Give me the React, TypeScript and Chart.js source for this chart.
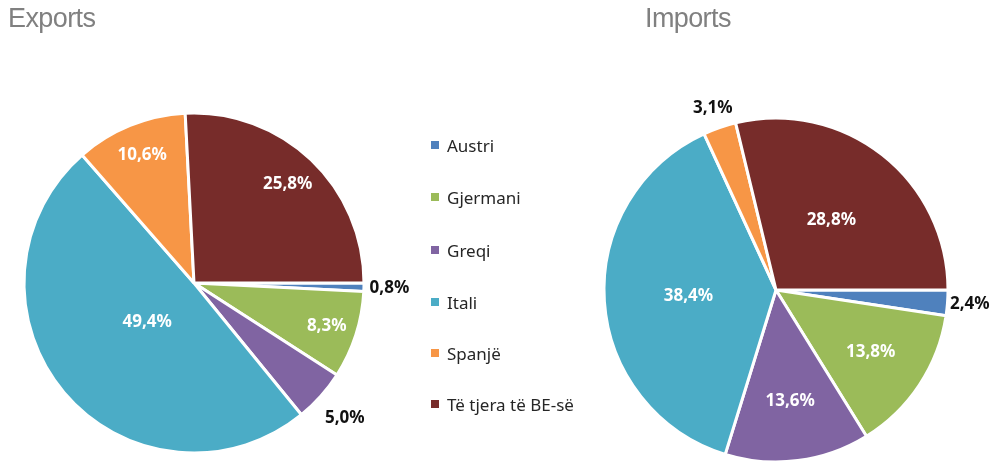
import React, { useEffect, useRef } from "react";
import { Chart, registerables } from "chart.js";

Chart.register(...registerables);

const categories = ["Austri", "Gjermani", "Greqi", "Itali", "Spanjë", "Të tjera të BE-së"];
const exportValues = [0.8, 8.3, 5.0, 49.4, 10.6, 25.8];
const importValues = [2.4, 13.8, 13.6, 38.4, 3.1, 28.8];
const colors = ["#4F81BD", "#9BBB59", "#8064A2", "#4BACC6", "#F79646", "#772C2A"];

// label placement as fraction of the outer radius (>1 means outside the pie)
const exportLabelRadius = [1.15, 0.82, 1.19, 0.36, 0.81, 0.8];
const importLabelRadius = [1.13, 0.66, 0.65, 0.51, 1.12, 0.52];

const W = 994;
const H = 463;

const labelPlugin = {
  id: "sliceLabels",
  afterDatasetsDraw(chart: any, _args: any, opts: any) {
    const { ctx } = chart;
    const meta = chart.getDatasetMeta(0);
    const data = chart.data.datasets[0].data as number[];
    const fracs: number[] = opts.fractions || [];
    ctx.save();
    ctx.font = "bold 17px 'Noto Sans', 'DejaVu Sans', sans-serif";
    ctx.textAlign = "center";
    ctx.textBaseline = "middle";
    meta.data.forEach((arc: any, i: number) => {
      const p = arc.getProps(["x", "y", "startAngle", "endAngle", "outerRadius"], true);
      const mid = (p.startAngle + p.endAngle) / 2;
      const f = fracs[i] ?? 0.65;
      const r = p.outerRadius * f;
      const x = p.x + Math.cos(mid) * r;
      const y = p.y + Math.sin(mid) * r;
      ctx.fillStyle = f > 1 ? "#111111" : "#ffffff";
      ctx.fillText(data[i].toFixed(1).replace(".", ",") + "%", x, y);
    });
    ctx.restore();
  },
};

function PieCanvas({
  values,
  fractions,
  radius,
  padding,
}: {
  values: number[];
  fractions: number[];
  radius: number;
  padding: { left: number; right: number; top: number; bottom: number };
}) {
  const ref = useRef<HTMLCanvasElement | null>(null);
  useEffect(() => {
    if (!ref.current) return;
    const chart = new Chart(ref.current, {
      type: "pie",
      data: {
        labels: categories,
        datasets: [
          {
            data: values,
            backgroundColor: colors,
            borderColor: "#ffffff",
            borderWidth: 3,
          },
        ],
      },
      options: {
        responsive: false,
        animation: false,
        rotation: 90,
        radius: radius,
        layout: { padding },
        plugins: {
          legend: { display: false },
          tooltip: { enabled: false },
          sliceLabels: { fractions },
        } as any,
      },
      plugins: [labelPlugin],
    });
    return () => chart.destroy();
  }, []);
  return (
    <canvas
      ref={ref}
      width={W}
      height={H}
      style={{ position: "absolute", left: 0, top: 0, width: W, height: H }}
    />
  );
}

const legendY = [145, 197, 250, 302, 353, 404];

export default function App() {
  const titleStyle: React.CSSProperties = {
    position: "absolute",
    top: 5,
    fontFamily: "'Liberation Sans', Arial, sans-serif",
    fontSize: 27,
    lineHeight: "27px",
    letterSpacing: "-0.6px",
    color: "#808080",
    whiteSpace: "nowrap",
  };
  return (
    <div style={{ position: "absolute", left: 0, top: 0, width: W, height: H, background: "#ffffff", overflow: "hidden" }}>
      <PieCanvas
        values={exportValues}
        fractions={exportLabelRadius}
        radius={170}
        padding={{ left: 0, right: W - 2 * 194, top: 2 * 283 - H, bottom: 0 }}
      />
      <PieCanvas
        values={importValues}
        fractions={importLabelRadius}
        radius={172}
        padding={{ left: 2 * 776 - W, right: 0, top: 2 * 290 - H, bottom: 0 }}
      />
      <div style={{ ...titleStyle, left: 8 }}>Exports</div>
      <div style={{ ...titleStyle, left: 645 }}>Imports</div>
      {categories.map((c, i) => (
        <div
          key={c}
          style={{
            position: "absolute",
            left: 431,
            top: legendY[i] - 12,
            height: 24,
            display: "flex",
            alignItems: "center",
            whiteSpace: "nowrap",
            fontFamily: "'Noto Sans', sans-serif",
            fontSize: 17,
            color: "#262626",
          }}
        >
          <span style={{ display: "inline-block", width: 8, height: 8, background: colors[i], marginRight: 8 }} />
          <span>{c}</span>
        </div>
      ))}
    </div>
  );
}
